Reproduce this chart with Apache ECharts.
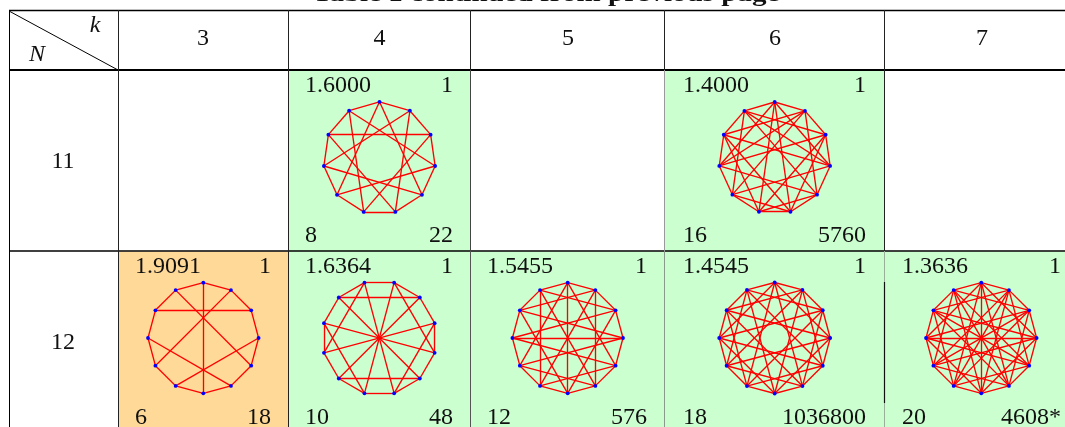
<!DOCTYPE html>
<html><head><meta charset="utf-8">
<style>html,body{margin:0;padding:0;background:#fff}#c{width:1065px;height:427px}</style>
<script src="https://cdn.jsdelivr.net/npm/echarts@6/dist/echarts.min.js"></script>
</head><body><div id="c"></div>
<script>
const title = 'Table 1 continued from previous page';
const kLabels = ['3','4','5','6','7'];
const nLabels = ['11','12'];

const ring11 = [[0,1],[1,2],[2,3],[3,4],[4,5],[5,6],[6,7],[7,8],[8,9],[9,10],[10,0]];
const ring12 = [[0,1],[1,2],[2,3],[3,4],[4,5],[5,6],[6,7],[7,8],[8,9],[9,10],[10,11],[11,0]];

const chords11k4 = [[0,4],[1,5],[2,6],[3,7],[4,8],[5,9],[6,10],[7,0],[8,1],[9,2],[10,3]];
const chords11k6 = [[0,3],[0,5],[0,6],[0,8],[2,5],[2,6],[2,8],[2,10],[4,1],[4,6],[4,8],[4,10],
  [7,1],[7,3],[7,5],[7,10],[9,1],[9,3],[9,5],[9,6],[1,8],[3,10]];
const chords12k3 = [[0,6],[1,8],[2,10],[3,7],[4,11],[5,9]];
const chords12k4 = [[0,6],[1,7],[2,8],[3,9],[4,10],[5,11],[0,3],[11,8],[6,9],[5,2],[10,1],[7,4]];
const chords12k5 = [[0,6],[3,9],[1,5],[7,11],[0,4],[0,8],[6,2],[6,10],[3,10],[3,8],[9,2],[9,4],[1,10],[2,11],[4,7],[5,8],[1,7],[5,11]];
const chords12k6 = [[0,3],[0,5],[0,7],[0,9],[2,5],[2,7],[2,9],[2,11],[4,1],[4,7],[4,9],[4,11],
  [6,1],[6,3],[6,9],[6,11],[8,1],[8,3],[8,5],[8,11],[10,1],[10,3],[10,5],[10,7]];
const chords12k7 = chords12k6.concat([[0,6],[1,7],[2,8],[3,9],[4,10],[5,11]]);

const avgDist  = ['1.6000','1.4000','1.9091','1.6364','1.5455','1.4545','1.3636'];
const topCount = ['1','1','1','1','1','1','1'];
const bottomLeft  = ['8','16','6','10','12','18','20'];
const bottomRight = ['22','5760','18','48','576','1036800','4608*'];

const GREEN = '#CCFFCF', ORANGE = '#FFD998';
const colX = [9.5, 118.5, 288.5, 470.5, 664.5, 884.5, 1066];
const SERIF = '"Liberation Serif","Times New Roman",serif';

const cells = [
  {n:11,ring:ring11,ch:chords11k4,col:2,row:0,fill:GREEN, cx:379.5,cy:158,r:56.2,start:90, tl:305,tr:453},
  {n:11,ring:ring11,ch:chords11k6,col:4,row:0,fill:GREEN, cx:774.7,cy:158,r:56,  start:90, tl:683,tr:866},
  {n:12,ring:ring12,ch:chords12k3,col:1,row:1,fill:ORANGE,cx:203.3,cy:338,r:55.3,start:90, tl:135,tr:271},
  {n:12,ring:ring12,ch:chords12k4,col:2,row:1,fill:GREEN, cx:379.3,cy:338,r:57.3,start:75, tl:305,tr:453},
  {n:12,ring:ring12,ch:chords12k5,col:3,row:1,fill:GREEN, cx:567.7,cy:338,r:55.3,start:90, tl:487,tr:647},
  {n:12,ring:ring12,ch:chords12k6,col:4,row:1,fill:GREEN, cx:774.7,cy:338,r:55.5,start:90, tl:683,tr:866},
  {n:12,ring:ring12,ch:chords12k7,col:5,row:1,fill:GREEN, cx:981.3,cy:338,r:55.3,start:90, tl:902,tr:1061}
];
const rowTop = [70.5, 251.5], rowBottom = [251.5, 428];
const baseTop = [92, 273], baseBottom = [242, 424];

const gfx = [];
const text = (s, x, base, align, opt={}) => gfx.push({type:'text', z:5, x, y:base-6.5, silent:true, ...(opt.el||{}),
  style:{text:s, align, verticalAlign:'middle', fill:'#111', font:(opt.font||'24px ')+SERIF}});
const line = (x1,y1,x2,y2,w,c='#000') => gfx.push({type:'line', z:3, silent:true,
  shape:{x1,y1,x2,y2}, style:{stroke:c, lineWidth:w}});

const series=[], polar=[], angleAxis=[], radiusAxis=[];
cells.forEach((c,i)=>{
  const col=c.col, x0=colX[col]+0.5, x1=colX[col+1]-0.5;
  gfx.push({type:'rect', z:1, silent:true, shape:{x:x0,y:rowTop[c.row],width:x1-x0,height:rowBottom[c.row]-rowTop[c.row]}, style:{fill:c.fill}});
  text(avgDist[i], c.tl, baseTop[c.row], 'left');
  text(topCount[i], c.tr, baseTop[c.row], 'right');
  text(bottomLeft[i], c.tl, baseBottom[c.row], 'left');
  text(bottomRight[i], c.tr, baseBottom[c.row], 'right');
  polar.push({center:[c.cx,c.cy], radius:[0,c.r]});
  angleAxis.push({polarIndex:i,type:'value',min:0,max:c.n,startAngle:c.start,clockwise:true,show:false});
  radiusAxis.push({polarIndex:i,type:'value',min:0,max:1,show:false});
  const nodes=[]; for(let v=0;v<c.n;v++) nodes.push({name:String(v), value:[1,v]});
  series.push({type:'graph', coordinateSystem:'polar', polarIndex:i, silent:true, animation:false, z:6,
    symbol:'circle', symbolSize:3.8, itemStyle:{color:'#0000FF'},
    lineStyle:{color:'#FF0000', width:1.35, opacity:1, curveness:0},
    label:{show:false}, emphasis:{disabled:true},
    data:nodes,
    links:c.ring.concat(c.ch).map(e=>({source:String(e[0]),target:String(e[1])}))});
});

// table rules
line(9,10.5,1065,10.5,1.3);
line(9,70,1065,70,1.8);
line(9,251,1065,251,1.5);
line(9.5,10,9.5,427,1);
const row1Col = ['#222','#222','#444','#999','#222'];
const row2Col = ['#222','#222','#555','#8a9a8a','#9aaf9a'];
colX.slice(1,6).forEach((x,i)=>{
  line(x,10,x,70,1,'#222');
  line(x,70,x,251,1,row1Col[i]);
  line(x,251,x,427,1,row2Col[i]);
});
line(884.5,282,884.5,403,1.2,'#111');
line(9,11,118,70,1);

// header and row labels
text(title, 546, 1.5, 'center', {font:'bold 24px ', el:{scaleX:1.21, originX:0}});
const colMid=[203,379.5,568,775,982];
kLabels.forEach((s,i)=>text(s,colMid[i],45,'center'));
text(nLabels[0],63,168,'center');
text(nLabels[1],63,349,'center');
text('k',95,32,'center',{font:'italic 24px '});
text('N',37,61,'center',{font:'italic 24px '});

const chart = echarts.init(document.getElementById('c'),null,{renderer:'canvas'});
chart.setOption({animation:false, polar, angleAxis, radiusAxis, series, graphic:{elements:gfx}});
</script></body></html>
